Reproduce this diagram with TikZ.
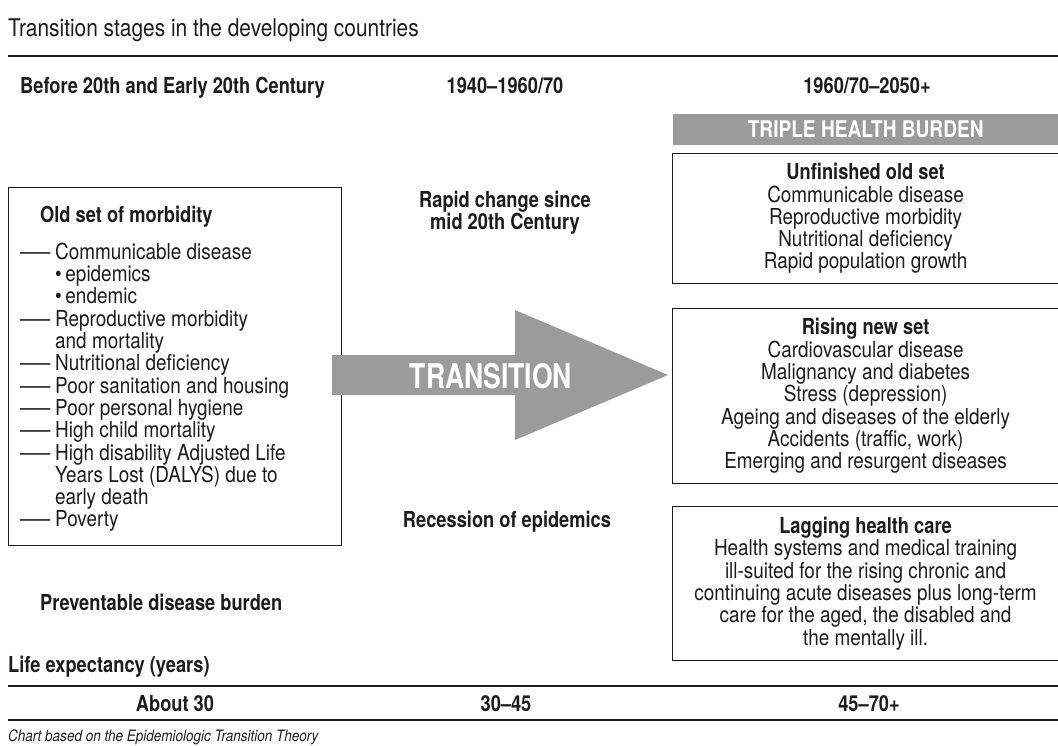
\documentclass[tikz,border=0pt]{standalone}
\usepackage{graphicx}
\usepackage{fontspec}
\setmainfont{TeX Gyre Heros}[FakeStretch=0.86,BoldFeatures={FakeStretch=0.83}]
\definecolor{bargray}{RGB}{155,155,155}
\definecolor{ink}{RGB}{28,28,28}
\newcommand{\ldash}{\makebox[35pt][l]{\scalebox{1.6}[1]{—}}}
\newcommand{\lind}{\hspace*{35pt}}
\begin{document}
\begin{tikzpicture}[x=1pt,y=-1pt,
  txt/.style={inner sep=0pt, text=ink, font=\fontsize{22}{22.3}\selectfont},
  hdr/.style={inner sep=0pt, text=ink, font=\bfseries\fontsize{22}{22.3}\selectfont},
  box/.style={draw=ink, line width=1.2pt, inner sep=0pt, align=center, text=ink,
              font=\fontsize{22}{22.3}\selectfont},
  rulethick/.style={draw=ink, line width=2.4pt},
  rulethin/.style={draw=ink, line width=1.6pt},
  graybar/.style={fill=bargray, inner sep=0pt, text=white},
]
\useasboundingbox (0,0) rectangle (1058,746);

% title and top rule
\node[txt, anchor=base west, font=\fontsize{24.3}{26}\selectfont] (title) at (8,37)
  {Transition stages in the developing countries};
\coordinate (r1a) at (8,56);
\coordinate (r1b) at (1058,56);
\draw[rulethick] (r1a) -- (r1b);

% column headers
\node[hdr, anchor=base west] (h1) at (20,94) {Before 20th and Early 20th Century};
\node[hdr, anchor=base] (h2) at (505,94) {1940–1960/70};
\node[hdr, anchor=base] (h3) at (867,94) {1960/70–2050+};

% triple health burden bar
\node[graybar, anchor=north west, minimum width=385, minimum height=31,
      font=\bfseries\fontsize{23}{24}\selectfont] (bar) at (673,114) {TRIPLE HEALTH BURDEN};

% right boxes
\node[box, anchor=north west, minimum width=386, minimum height=130] (b1) at (672,153)
  {\textbf{Unfinished old set}\\Communicable disease\\Reproductive morbidity\\Nutritional deficiency\\Rapid population growth};
\node[box, anchor=north west, minimum width=386, minimum height=175] (b2) at (672,308)
  {\textbf{Rising new set}\\Cardiovascular disease\\Malignancy and diabetes\\Stress (depression)\\Ageing and diseases of the elderly\\Accidents (traffic, work)\\Emerging and resurgent diseases};
\node[box, anchor=north west, minimum width=386, minimum height=154] (b3) at (672,506)
  {\textbf{Lagging health care}\\Health systems and medical training\\ill-suited for the rising chronic and\\continuing acute diseases plus long-term\\care for the aged, the disabled and\\the mentally ill.};

% left box
\node[box, anchor=north west, minimum width=333, minimum height=358] (b0) at (8,187) {};
\node[txt, anchor=north west, align=left] (b0t) at (20,206)
  {\hspace*{20pt}\textbf{Old set of morbidity}\\[14.5pt]
   \ldash Communicable disease\\
   \lind •\,epidemics\\
   \lind •\,endemic\\
   \ldash Reproductive morbidity\\
   \lind and mortality\\
   \ldash Nutritional deficiency\\
   \ldash Poor sanitation and housing\\
   \ldash Poor personal hygiene\\
   \ldash High child mortality\\
   \ldash High disability Adjusted Life\\
   \lind Years Lost (DALYS) due to\\
   \lind early death\\
   \ldash Poverty};

% transition arrow
\coordinate (a1) at (332,355);
\coordinate (a2) at (515,355);
\coordinate (a3) at (515,310);
\coordinate (atip) at (668,375);
\coordinate (a5) at (515,440);
\coordinate (a6) at (515,395);
\coordinate (a7) at (332,395);
\fill[bargray] (a1) -- (a2) -- (a3) -- (atip) -- (a5) -- (a6) -- (a7) -- cycle;
\node[inner sep=0pt, text=white, font=\bfseries\fontsize{34}{36}\selectfont, anchor=base]
  (trans) at (491,388) {\scalebox{0.94}[1]{TRANSITION}};

% middle texts
\node[hdr, align=center, anchor=north] (rapid) at (505,191) {Rapid change since\\mid 20th Century};
\node[hdr, anchor=base] (recess) at (507,527) {Recession of epidemics};
\node[hdr, anchor=base west] (prev) at (40,610) {Preventable disease burden};

% life expectancy
\node[hdr, anchor=base west] (life) at (8,672) {Life expectancy (years)};
\coordinate (r2a) at (8,686);
\coordinate (r2b) at (1058,686);
\draw[rulethin] (r2a) -- (r2b);
\node[hdr, anchor=base] (v1) at (175,711) {About 30};
\node[hdr, anchor=base] (v2) at (506,711) {30–45};
\node[hdr, anchor=base] (v3) at (869,711) {45–70+};
\coordinate (r3a) at (8,720);
\coordinate (r3b) at (1058,720);
\draw[rulethin] (r3a) -- (r3b);

% footnote
\node[txt, anchor=base west, font=\itshape\fontsize{15.7}{17}\selectfont] (foot) at (8,741)
  {Chart based on the Epidemiologic Transition Theory};
\end{tikzpicture}
\end{document}
